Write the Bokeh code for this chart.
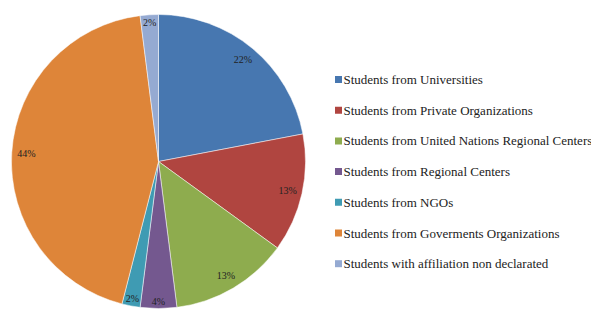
import math
from bokeh.plotting import figure
from bokeh.models import Range1d, ColumnDataSource
from bokeh.core.properties import value
from bokeh.embed import file_html
from bokeh.resources import INLINE

categories = [
    "Students from Universities",
    "Students from Private Organizations",
    "Students from United Nations Regional Centers",
    "Students from Regional Centers",
    "Students from NGOs",
    "Students from Goverments Organizations",
    "Students with affiliation non declarated",
]
percents = [22, 13, 13, 4, 2, 44, 2]
colors = ["#4777B0", "#B04540", "#8EAC4E", "#74588F", "#3F9BB3", "#DE8539", "#95AAD2"]

W, H = 591, 309
cx, cy, R = 158, 148, 147
FONT = value("Liberation Serif")

p = figure(width=W, height=H, output_backend="svg", toolbar_location=None,
           x_range=Range1d(0, W), y_range=Range1d(0, H), min_border=0,
           outline_line_color=None)
p.axis.visible = False
p.grid.visible = False
p.background_fill_color = "white"

total = sum(percents)
starts, ends, lx, ly, labels = [], [], [], [], []
cum = 0.0
for pc in percents:
    a0 = cum / total
    cum += pc
    a1 = cum / total
    starts.append(math.pi / 2 - 2 * math.pi * a0)
    ends.append(math.pi / 2 - 2 * math.pi * a1)
    mid = (a0 + a1) / 2 * 2 * math.pi
    f = 0.9 if pc >= 10 else 0.95
    lx.append(cx + R * f * math.sin(mid))
    ly.append(cy + R * f * math.cos(mid))
    labels.append(f"{pc}%")

src = ColumnDataSource(dict(start=starts, end=ends, color=colors))
p.wedge(x=cx, y=cy, radius=R, start_angle="start", end_angle="end",
        direction="clock", fill_color="color", line_color="white", line_width=0.5,
        source=src)

p.text(x=lx, y=ly, text=labels, text_font=FONT,
       text_font_size="10px", text_color="#222222", text_align="center",
       text_baseline="middle")

# legend
n = len(categories)
leg_y = [H - (79 + 30.7 * i) for i in range(n)]
p.scatter(x=[338] * n, y=leg_y, marker="square", size=7, fill_color=colors, line_color=None)
p.text(x=[343] * n, y=leg_y, text=categories, text_font=FONT,
       text_font_size="13px", text_color="#222222", text_align="left",
       text_baseline="middle")

open("out.html", "w").write(file_html(p, INLINE))
